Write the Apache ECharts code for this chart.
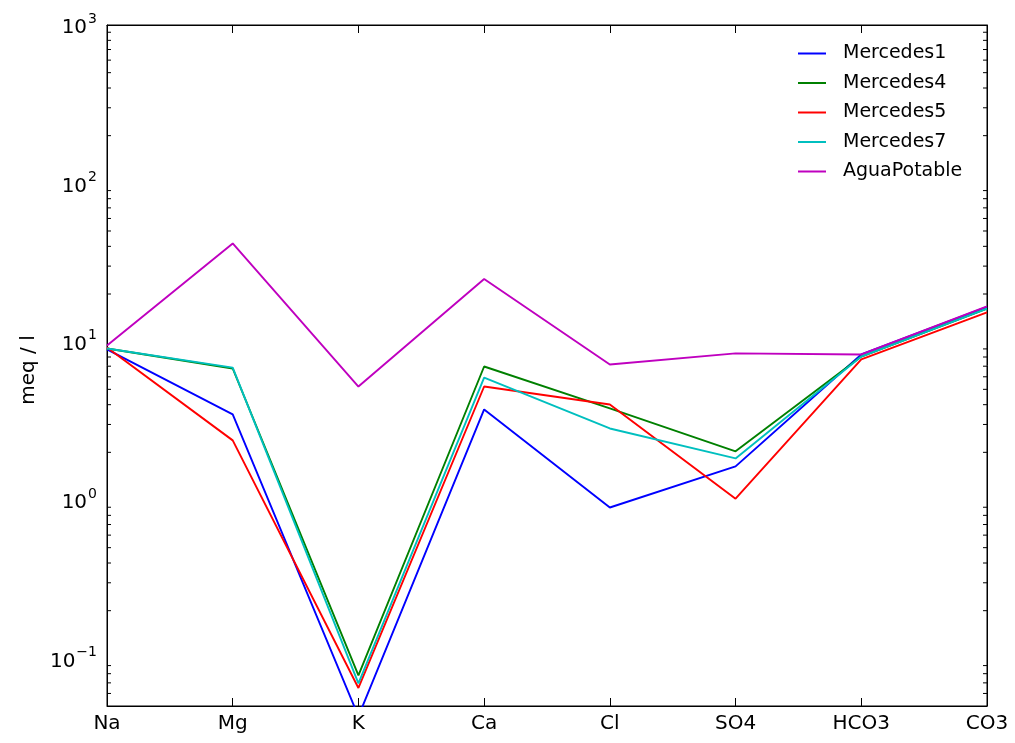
<!DOCTYPE html>
<html>
<head>
<meta charset="utf-8">
<script src="https://cdn.jsdelivr.net/npm/echarts@6/dist/echarts.min.js"></script>
<style>html,body{margin:0;padding:0;background:#fff;}#c{width:1015px;height:743px;}</style>
</head>
<body>
<div id="c"></div>
<script>
const categories = ['Na', 'Mg', 'K', 'Ca', 'Cl', 'SO4', 'HCO3', 'CO3'];
const seriesNames = ['Mercedes1', 'Mercedes4', 'Mercedes5', 'Mercedes7', 'AguaPotable'];
const mercedes1 = [8.93, 3.47, 0.043, 3.73, 0.897, 1.63, 8.3, 16.6];
const mercedes4 = [9.06, 6.77, 0.078, 6.97, 3.79, 2.03, 8.05, 16.2];
const mercedes5 = [9.19, 2.38, 0.065, 5.21, 4.01, 1.02, 7.72, 15.3];
const mercedes7 = [9.06, 6.85, 0.0695, 5.93, 2.83, 1.83, 8.05, 16.2];
const aguaPotable = [9.46, 41.7, 5.21, 24.9, 7.18, 8.43, 8.3, 16.7];
const colors = ['#0000ff', '#008000', '#ff0000', '#00bfbf', '#bf00bf'];
const yMin = 0.05, yMax = 1000;
const minorTickValues = [0.06, 0.07, 0.08, 0.09,
  0.2, 0.3, 0.4, 0.5, 0.6, 0.7, 0.8, 0.9,
  2, 3, 4, 5, 6, 7, 8, 9,
  20, 30, 40, 50, 60, 70, 80, 90,
  200, 300, 400, 500, 600, 700, 800, 900];

const seriesData = [mercedes1, mercedes4, mercedes5, mercedes7, aguaPotable];
const FONT = 'DejaVu Sans';

function powLabel(v) {
  const e = Math.round(Math.log10(v));
  const es = e < 0 ? '\u2212' + (-e) : String(e);
  return '{b|10}{s|' + es + '}';
}

const chart = echarts.init(document.getElementById('c'));
const lineSeries = seriesNames.map((n, i) => ({
  name: n, type: 'line', data: seriesData[i], showSymbol: false, symbol: 'none',
  lineStyle: { color: colors[i], width: 1.9 }, itemStyle: { color: colors[i] },
  clip: true, animation: false, z: 3
}));

const minorSeries = {
  type: 'custom', coordinateSystem: 'cartesian2d', xAxisIndex: 0, yAxisIndex: 0,
  data: minorTickValues.map(v => [0, v]), silent: true, animation: false, clip: false,
  renderItem: function (params, api) {
    const p = api.coord([0, api.value(1)]);
    const cs = params.coordSys;
    const st = { stroke: '#000', lineWidth: 1 };
    return { type: 'group', children: [
      { type: 'line', shape: { x1: cs.x, y1: p[1], x2: cs.x + 4, y2: p[1] }, style: st },
      { type: 'line', shape: { x1: cs.x + cs.width - 4, y1: p[1], x2: cs.x + cs.width, y2: p[1] }, style: st }
    ]};
  }
};

const yLabelRich = {
  b: { fontSize: 20, fontFamily: FONT, color: '#000', lineHeight: 26, verticalAlign: 'bottom' },
  s: { fontSize: 14, fontFamily: FONT, color: '#000', lineHeight: 26, verticalAlign: 'top', padding: [0, 0, 6, 1] }
};

chart.setOption({
  animation: false,
  backgroundColor: '#fff',
  grid: { left: 107, right: 28, top: 25, bottom: 37, show: true, borderColor: '#000', borderWidth: 1, backgroundColor: 'transparent' },
  legend: {
    data: seriesNames, orient: 'vertical', left: 793, top: 39, icon: 'rect',
    itemWidth: 28, itemHeight: 2, itemGap: 10.5,
    textStyle: { fontFamily: FONT, fontSize: 19, color: '#000', lineHeight: 18, padding: [0, 0, 0, 12] }
  },
  xAxis: [{
    type: 'category', data: categories, boundaryGap: false,
    axisLine: { lineStyle: { color: '#000', width: 1 } },
    axisTick: { inside: true, length: 8, lineStyle: { color: '#000' } },
    axisLabel: { fontFamily: FONT, fontSize: 20, color: '#000', margin: 8, showMinLabel: true, showMaxLabel: true },
    splitLine: { show: false }
  }, {
    type: 'category', data: categories, boundaryGap: false, position: 'top',
    axisLine: { lineStyle: { color: '#000', width: 1 } },
    axisTick: { inside: true, length: 8, lineStyle: { color: '#000' } },
    axisLabel: { show: false }, splitLine: { show: false }
  }],
  yAxis: [{
    type: 'log', logBase: 10, min: yMin, max: yMax,
    name: 'meq / l', nameLocation: 'middle', nameGap: 68, nameRotate: 90,
    nameTextStyle: { fontFamily: FONT, fontSize: 20, color: '#000', padding: [0, 9, 0, 0] },
    axisLine: { show: true, lineStyle: { color: '#000', width: 1 } },
    axisTick: { inside: true, length: 8, lineStyle: { color: '#000' } },
    axisLabel: { formatter: powLabel, rich: yLabelRich, margin: 10, showMinLabel: false },
    splitLine: { show: false }, minorTick: { show: false }
  }, {
    type: 'log', logBase: 10, min: yMin, max: yMax, position: 'right',
    axisLine: { show: true, lineStyle: { color: '#000', width: 1 } },
    axisTick: { inside: true, length: 8, lineStyle: { color: '#000' } },
    axisLabel: { show: false }, splitLine: { show: false }
  }],
  series: lineSeries.concat([minorSeries])
});
</script>
</body>
</html>
